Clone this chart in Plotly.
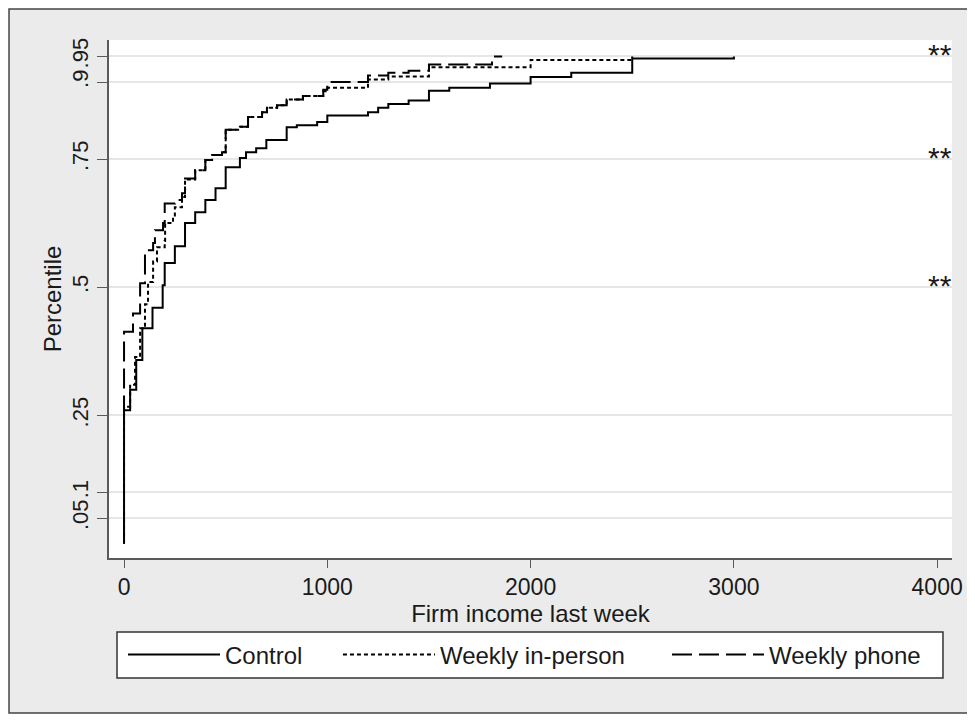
import plotly.graph_objects as go

# ---- data ----
control_x = [0, 0, 30, 60, 90, 140, 190, 200, 250, 300, 350, 400, 450, 500, 570, 600, 650,
             700, 800, 850, 950, 1000, 1200, 1250, 1300, 1400, 1500, 1600, 1800, 2000, 2200,
             2500, 3000]
control_y = [0.0, 0.26, 0.30, 0.358, 0.42, 0.46, 0.504, 0.547, 0.58, 0.625, 0.646, 0.67, 0.693,
             0.734, 0.752, 0.763, 0.771, 0.787, 0.812, 0.816, 0.822, 0.835, 0.841, 0.85, 0.857,
             0.864, 0.883, 0.889, 0.897, 0.91, 0.918, 0.946, 0.95]

inperson_x = [0, 0, 30, 54, 79, 103, 118, 143, 162, 200, 202, 241, 250, 285, 300, 350, 400,
              433, 482, 500, 570, 610, 679, 703, 753, 800, 880, 980, 1000, 1200, 1300, 1500,
              2000, 2500]
inperson_y = [0.0, 0.267, 0.31, 0.364, 0.42, 0.467, 0.51, 0.55, 0.578, 0.59, 0.625, 0.637,
              0.656, 0.676, 0.71, 0.728, 0.748, 0.758, 0.763, 0.807, 0.813, 0.832, 0.841, 0.85,
              0.855, 0.866, 0.873, 0.882, 0.889, 0.905, 0.911, 0.929, 0.943, 0.95]

phone_x = [0, 0, 44, 79, 103, 143, 152, 192, 200, 251, 285, 300, 350, 400, 433, 482, 500, 570,
           610, 679, 703, 753, 800, 880, 980, 1000, 1200, 1300, 1400, 1500, 1810, 1860]
phone_y = [0.25, 0.413, 0.449, 0.508, 0.572, 0.586, 0.611, 0.625, 0.663, 0.67, 0.683, 0.712,
           0.728, 0.748, 0.758, 0.763, 0.807, 0.813, 0.832, 0.841, 0.85, 0.855, 0.866, 0.873,
           0.885, 0.90, 0.913, 0.918, 0.922, 0.934, 0.95, 0.95]

y_ticks = [0.05, 0.1, 0.25, 0.5, 0.75, 0.9, 0.95]
y_tick_labels = [".05", ".1", ".25", ".5", ".75", ".9", ".95"]
x_ticks = [0, 1000, 2000, 3000, 4000]
star_levels = [0.95, 0.75, 0.5]
star_labels = ["**", "**", "**"]

FONT = "Liberation Sans, Arial, sans-serif"
INK = "#1a1a1a"
AXIS = "#5a5a5a"

fig = go.Figure()
fig.add_trace(go.Scatter(x=control_x, y=control_y, mode="lines", name="Control",
                         legend="legend",
                         line=dict(color="black", width=2, shape="hv")))
fig.add_trace(go.Scatter(x=inperson_x, y=inperson_y, mode="lines", name="Weekly in-person",
                         legend="legend2",
                         line=dict(color="black", width=2, shape="hv", dash="4px,3px")))
fig.add_trace(go.Scatter(x=phone_x, y=phone_y, mode="lines", name="Weekly phone",
                         legend="legend3",
                         line=dict(color="black", width=2, shape="hv", dash="20px,7px")))

for lvl, lab in zip(star_levels, star_labels):
    fig.add_annotation(x=0.9858, xref="paper", y=lvl, yref="y", yshift=2, text=lab,
                       showarrow=False, xanchor="center", yanchor="middle",
                       font=dict(family=FONT, size=30, color=INK))

# outer grey panel with frame, white plot region, legend box
fig.add_shape(type="rect", xref="paper", yref="paper", x0=-0.1186, x1=1.0214,
              y0=-0.2992, y1=1.0598, fillcolor="#ebebeb",
              line=dict(color="#444444", width=1.5), layer="below")
fig.add_shape(type="rect", xref="paper", yref="paper", x0=0, x1=1, y0=0, y1=1,
              fillcolor="white", line=dict(width=0), layer="below")
fig.add_shape(type="rect", xref="paper", yref="paper", x0=0.0095, x1=0.9893,
              y0=-0.2317, y1=-0.1429, fillcolor="white",
              line=dict(color="#333333", width=1.5), layer="below")

leg_common = dict(orientation="h", y=-0.187, yanchor="middle", xanchor="left",
                  bgcolor="rgba(0,0,0,0)", borderwidth=0, itemwidth=92,
                  font=dict(family=FONT, size=24, color=INK))

fig.update_layout(
    width=975, height=720,
    margin=dict(l=101, r=31, t=32, b=170),
    paper_bgcolor="white", plot_bgcolor="white",
    font=dict(family=FONT, size=22, color=INK),
    showlegend=True,
    legend=dict(x=0.0166, **leg_common),
    legend2=dict(x=0.2716, **leg_common),
    legend3=dict(x=0.6619, **leg_common),
    xaxis=dict(range=[-74, 4073], tickvals=x_ticks, ticks="outside", ticklen=8,
               tickcolor=AXIS, showline=True, linecolor=AXIS, linewidth=1.5,
               showgrid=False, zeroline=False,
               tickfont=dict(family=FONT, size=23, color=INK),
               title=dict(text="Firm income last week", standoff=2,
                          font=dict(family=FONT, size=24, color=INK))),
    yaxis=dict(range=[-0.0279, 0.982], tickvals=y_ticks, ticktext=y_tick_labels,
               tickangle=-90, ticks="outside", ticklen=10, tickcolor=AXIS,
               showline=True, linecolor=AXIS, linewidth=1.5,
               showgrid=True, gridcolor="#e6e6e6", gridwidth=1.5, zeroline=False,
               tickfont=dict(family=FONT, size=22, color=INK),
               title=dict(text="Percentile", standoff=0,
                          font=dict(family=FONT, size=24, color=INK))),
)

fig.write_html("out.html")
